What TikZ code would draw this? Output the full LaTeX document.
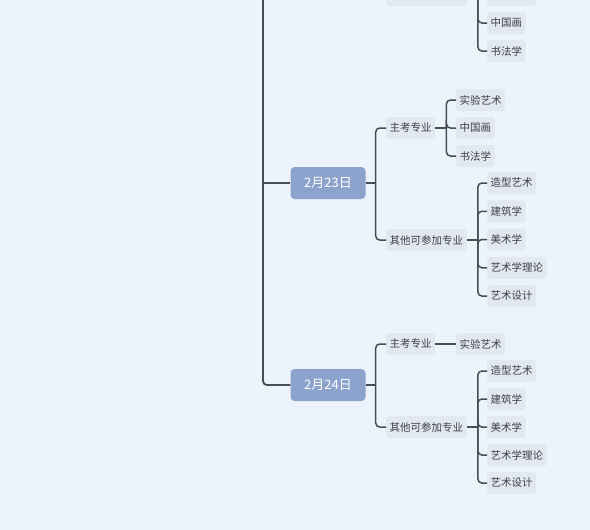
\documentclass[tikz,border=0pt]{standalone}
\usepackage{fontspec}
\newfontfamily\cjk{Noto Sans CJK SC}
\usetikzlibrary{positioning}
\definecolor{bgblue}{HTML}{EDF3FC}
\definecolor{datefill}{HTML}{8CA3CD}
\definecolor{leaffill}{HTML}{E2E8F2}
\definecolor{linedark}{HTML}{474C59}
\definecolor{textdark}{HTML}{3B404B}
\tikzset{
  datebox/.style={fill=datefill, rounded corners=4pt, minimum width=75pt, minimum height=32pt, inner sep=0pt, text=white, font=\cjk\fontsize{13}{15}\selectfont},
  leaf/.style={fill=leaffill, rounded corners=3pt, minimum height=22pt, inner xsep=3.5pt, inner ysep=0pt, text=textdark, font=\cjk\fontsize{10.5}{12}\selectfont, anchor=west},
  conn/.style={draw=linedark, line width=1.5pt, rounded corners=4pt},
  trunk/.style={conn, line width=1.8pt},
}
\begin{document}
\begin{tikzpicture}[x=1pt,y=-1pt]
    \clip (0,0) rectangle (590,530);
    \fill[bgblue] (0,0) rectangle (590,530);

    % branch above, cut by the frame
    \node[leaf] (o0) at (386,-5) {其他可参加专业};
    \draw[conn] (o0.east) -- ++(11,0) coordinate (o0j);
    \draw[conn] (o0j) -- ++(0,-30);
    \foreach \t/\y [count=\i] in {实验艺术/-5,中国画/23,书法学/51} {
      \node[leaf] (o0\i) at (487,\y) {\t};
      \draw[conn] (o0j) |- (o0\i.west);
    }

    % dates
    \node[datebox] (d1) at (328,183) {2月23日};
    \node[datebox] (d2) at (328,385) {2月24日};
    \coordinate (trunktop) at (263,-10);
    \draw[trunk] (trunktop) |- (d2.west);
    \draw[trunk] (trunktop |- d1) -- (d1.west);

    % 2月23日
    \node[leaf] (z1) at (386,128) {主考专业};
    \node[leaf] (o1) at (386,240) {其他可参加专业};
    \draw[conn] (d1.east) -- ++(10,0) coordinate (d1j);
    \draw[conn] (d1j) |- (z1.west);
    \draw[conn] (d1j) |- (o1.west);
    \draw[conn] (z1.east) -- ++(11,0) coordinate (z1j);
    \foreach \t [count=\i] in {实验艺术,中国画,书法学} {
      \node[leaf] (z1\i) at (456,{100+28*(\i-1)}) {\t};
      \draw[conn] (z1j) |- (z1\i.west);
    }
    \draw[conn] (o1.east) -- ++(11,0) coordinate (o1j);
    \foreach \t [count=\i] in {造型艺术,建筑学,美术学,艺术学理论,艺术设计} {
      \node[leaf] (o1\i) at (487,{183+28.25*(\i-1)}) {\t};
      \draw[conn] (o1j) |- (o1\i.west);
    }

    % 2月24日
    \node[leaf] (z2) at (386,344) {主考专业};
    \node[leaf] (o2) at (386,427) {其他可参加专业};
    \draw[conn] (d2.east) -- ++(10,0) coordinate (d2j);
    \draw[conn] (d2j) |- (z2.west);
    \draw[conn] (d2j) |- (o2.west);
    \node[leaf] (z21) at (456,344) {实验艺术};
    \draw[conn] (z2.east) -- (z21.west);
    \draw[conn] (o2.east) -- ++(11,0) coordinate (o2j);
    \foreach \t [count=\i] in {造型艺术,建筑学,美术学,艺术学理论,艺术设计} {
      \node[leaf] (o2\i) at (487,{371+28*(\i-1)}) {\t};
      \draw[conn] (o2j) |- (o2\i.west);
    }
\end{tikzpicture}
\end{document}
